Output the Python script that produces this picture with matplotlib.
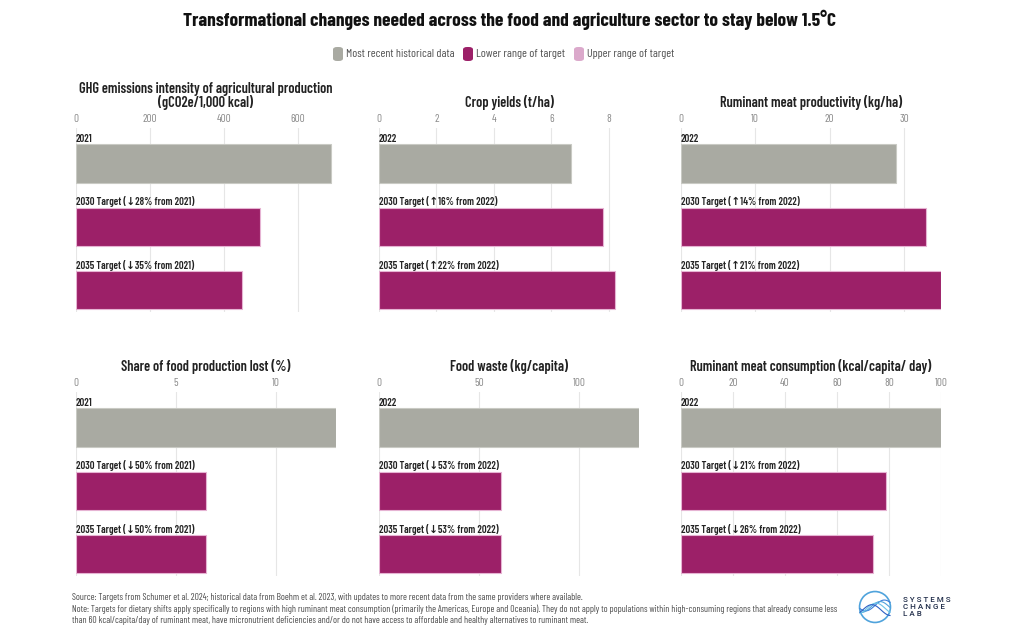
import matplotlib
matplotlib.use("Agg")
import matplotlib.pyplot as plt
from matplotlib import font_manager
from matplotlib.patches import FancyBboxPatch, Circle
import numpy as np

# ---------------- data ----------------
panel_titles = [
    "GHG emissions intensity of agricultural production\n(gCO2e/1,000 kcal)",
    "Crop yields (t/ha)",
    "Ruminant meat productivity (kg/ha)",
    "Share of food production lost (%)",
    "Food waste (kg/capita)",
    "Ruminant meat consumption (kcal/capita/ day)",
]
bar_labels = [
    ["2021", "2030 Target (\u219328% from 2021)", "2035 Target (\u219335% from 2021)"],
    ["2022", "2030 Target (\u219116% from 2022)", "2035 Target (\u219122% from 2022)"],
    ["2022", "2030 Target (\u219114% from 2022)", "2035 Target (\u219121% from 2022)"],
    ["2021", "2030 Target (\u219350% from 2021)", "2035 Target (\u219350% from 2021)"],
    ["2022", "2030 Target (\u219353% from 2022)", "2035 Target (\u219353% from 2022)"],
    ["2022", "2030 Target (\u219321% from 2022)", "2035 Target (\u219326% from 2022)"],
]
ghg_values = [690, 497, 449]
crop_values = [6.7, 7.8, 8.2]
rum_prod_values = [29, 33, 35]
loss_values = [13, 6.5, 6.5]
waste_values = [130, 61, 61]
rum_cons_values = [100, 79, 74]
all_values = [ghg_values, crop_values, rum_prod_values, loss_values, waste_values, rum_cons_values]
x_ticks = [[0, 200, 400, 600], [0, 2, 4, 6, 8], [0, 10, 20, 30],
           [0, 5, 10], [0, 50, 100], [0, 20, 40, 60, 80, 100]]
x_max = [703, 9.05, 35, 13, 130, 100]
legend_labels = ["Most recent historical data", "Lower range of target", "Upper range of target"]
title = "Transformational changes needed across the food and agriculture sector to stay below 1.5\u00b0C"
foot = ("Source: Targets from Schumer et al. 2024; historical data from Boehm et al. 2023, with updates to more recent data from the same providers where available.\n"
        "Note: Targets for dietary shifts apply specifically to regions with high ruminant meat consumption (primarily the Americas, Europe and Oceania). They do not apply to populations within high-consuming regions that already consume less\n"
        "than 60 kcal/capita/day of ruminant meat, have micronutrient deficiencies and/or do not have access to affordable and healthy alternatives to ruminant meat.")

GRAY = "#A9AAA2"
PURPLE = "#9C2068"
PINK = "#DBA9CB"

avail = {f.name for f in font_manager.fontManager.ttflist}


def pick(*cands):
    for n in cands:
        if n in avail:
            return n
    return "DejaVu Sans"


COND = pick("Barlow Condensed", "Roboto Condensed", "Barlow Semi Condensed",
            "Sofia Sans Condensed", "Liberation Sans Narrow", "Roboto")
LOGO = pick("Roboto", "DejaVu Sans")
plt.rcParams['font.family'] = [COND, 'DejaVu Sans']

fig = plt.figure(figsize=(10.2, 6.4), dpi=100)


def fit(txt, target_px):
    r = fig.canvas.get_renderer()
    w = txt.get_window_extent(r).width
    if w > 0:
        txt.set_fontsize(txt.get_fontsize() * target_px / w)


t_title = fig.text(0.5, 1 - 20 / 640, title, ha="center", va="center", fontsize=14,
                   fontweight="bold", color="#111111")

# legend
leg_items = [(GRAY, legend_labels[0]), (PURPLE, legend_labels[1]), (PINK, legend_labels[2])]
lx = [333, 463, 574]
leg_w = [108, 89, 87]
leg_txts = []
for (c, lab), x in zip(leg_items, lx):
    fig.patches.append(FancyBboxPatch((x / 1020, 1 - 61 / 640), 10 / 1020, 14 / 640,
                                      boxstyle="round,pad=0,rounding_size=0.004",
                                      transform=fig.transFigure, facecolor=c, edgecolor="none"))
    leg_txts.append(fig.text((x + 13) / 1020, 1 - 54 / 640, lab, ha="left", va="center",
                             fontsize=9, color="#505050"))

lefts = [76, 379, 681]
tops = [128, 392]
w_px, h_px = 260, 184
for i in range(6):
    r, c = divmod(i, 3)
    ax = fig.add_axes([lefts[c] / 1020, 1 - (tops[r] + h_px) / 640, w_px / 1020, h_px / 640])
    vals = all_values[i]
    ypos = np.arange(3)
    cols = [GRAY, PURPLE, PURPLE]
    edges = ["#C9CAC4", "#E6B3D3", "#E6B3D3"]
    ax.barh(ypos, vals, height=0.6, color=cols, edgecolor=edges, linewidth=0.8, zorder=3)
    for y, lab in zip(ypos, bar_labels[i]):
        ax.text(0, y - 0.31, lab, ha="left", va="bottom", fontsize=7.6, fontweight="semibold",
                color="#222222", zorder=4)
    ax.set_xlim(0, x_max[i])
    ax.set_ylim(2.34, -0.56)
    ax.set_xticks(x_ticks[i])
    ax.xaxis.tick_top()
    ax.tick_params(axis="x", length=0, labelsize=8, labelcolor="#8A8A8A", pad=3)
    ax.set_yticks([])
    ax.grid(axis="x", color="#E6E6E6", linewidth=0.8, zorder=0)
    for s in ax.spines.values():
        s.set_visible(False)
    ax.set_title(panel_titles[i], fontsize=10.3, fontweight="semibold", color="#222222", pad=15,
                 linespacing=0.9)

t_foot = fig.text(72 / 1020, 1 - 593 / 640, foot, ha="left", va="top", fontsize=7,
                  color="#4A4A4A", linespacing=1.3)

# logo
lax = fig.add_axes([858 / 1020, 1 - 624 / 640, 34 / 1020, 34 / 640])
lax.set_xlim(-1.1, 1.1); lax.set_ylim(-1.1, 1.1); lax.set_aspect("equal"); lax.axis("off")
lax.add_patch(Circle((0, 0), 1, fill=False, edgecolor="#4FA3DC", linewidth=1.2))
t = np.linspace(-0.97, 0.97, 60)
for k, col in zip(range(4), ["#3B7DD8", "#4FA3DC", "#6CC3E8", "#2D5FC4"]):
    lax.plot(t, 0.35 * np.sin(2.6 * t + k * 0.7) - 0.1 * k + 0.1, color=col, linewidth=0.8)
fig.text(903 / 1020, 1 - 607 / 640, "S Y S T E M S\nC H A N G E\nL A B", ha="left", va="center",
         fontsize=5.8, fontweight="medium", color="#1E2B48", linespacing=1.25,
         family=[LOGO, "DejaVu Sans"])

fig.canvas.draw()
fit(t_title, 652)
fit(t_foot, 766)
for tx, w in zip(leg_txts, leg_w):
    fit(tx, w)

fig.savefig("out.png", dpi=100)
